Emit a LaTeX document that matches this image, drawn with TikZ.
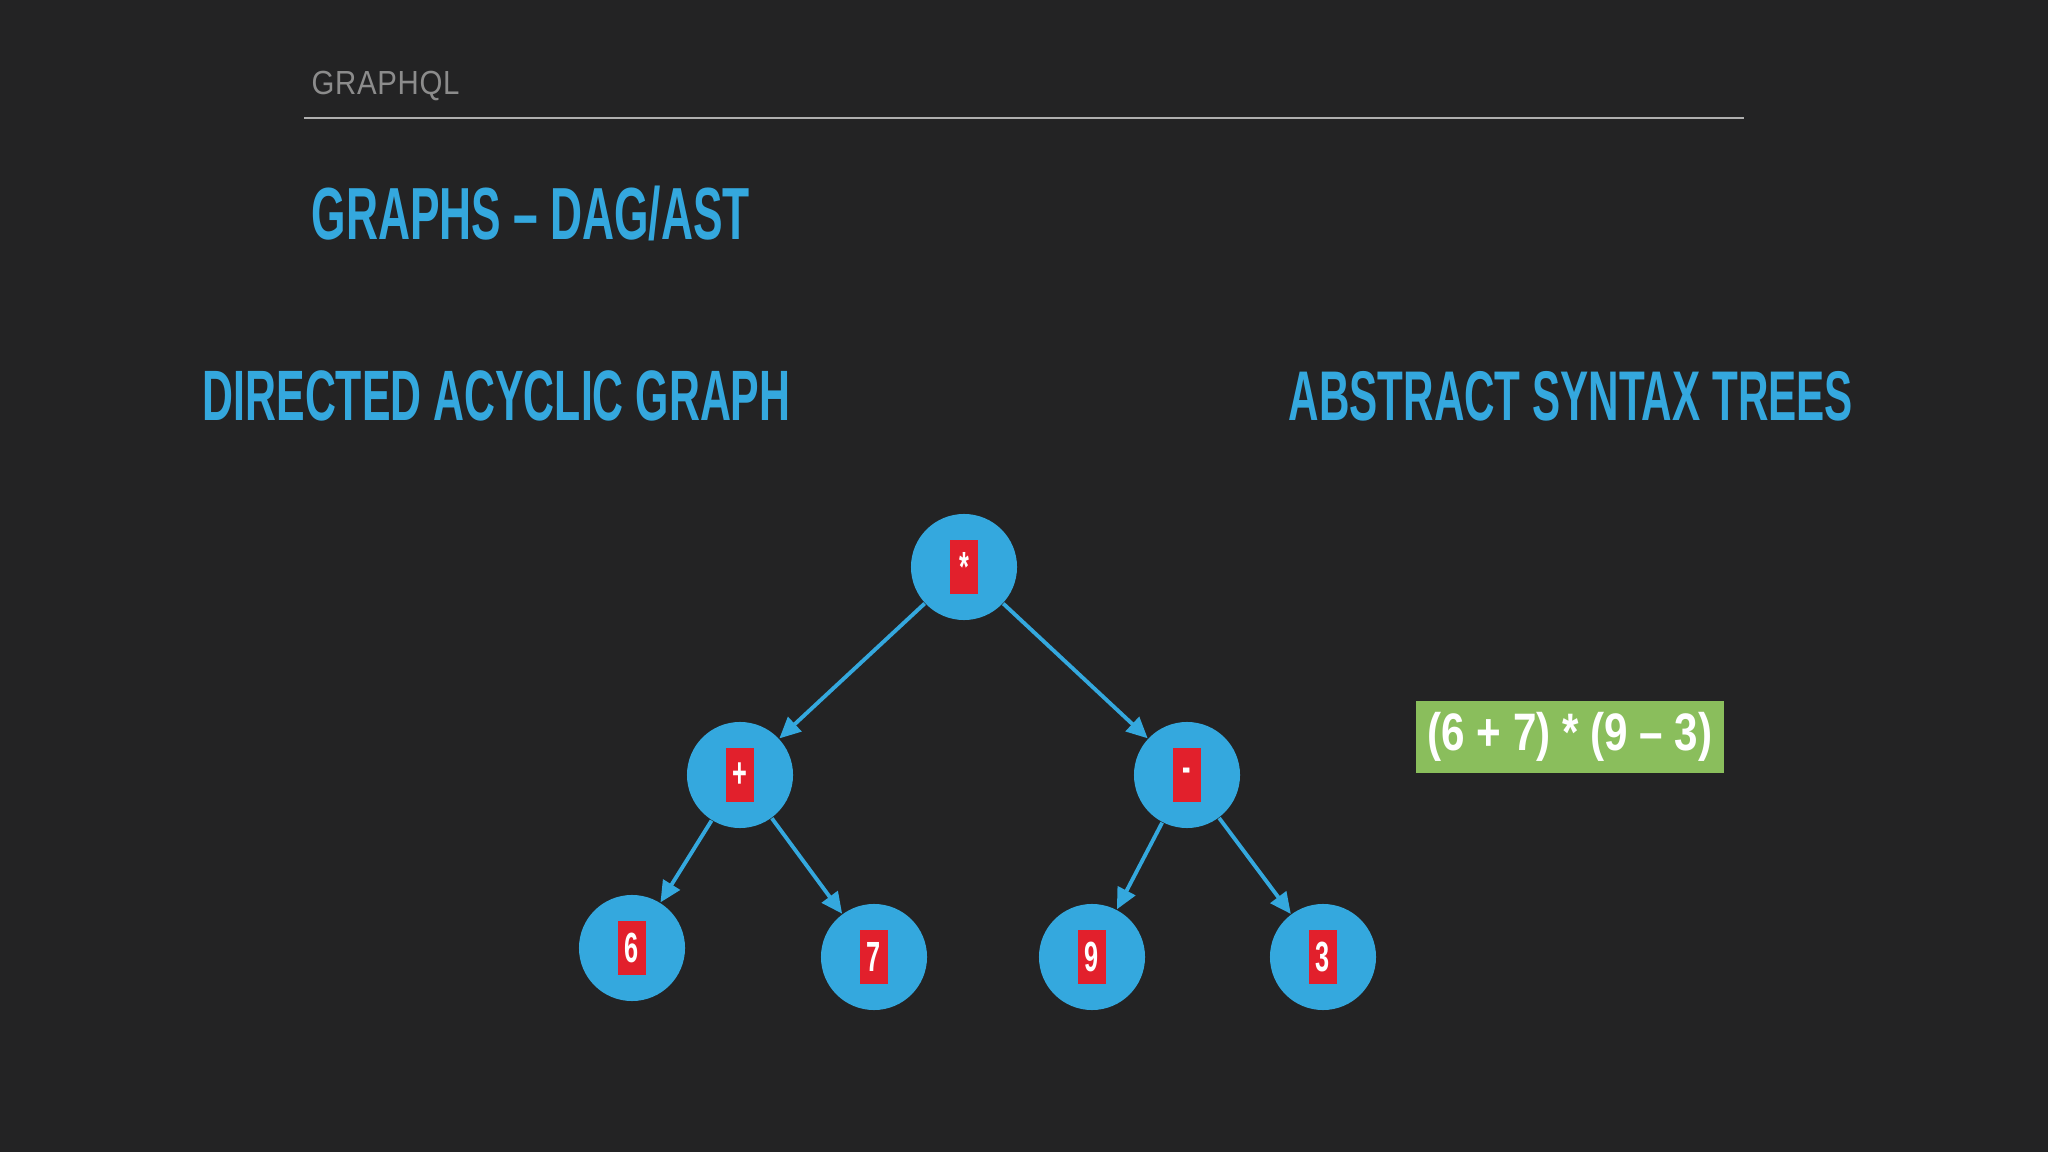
\documentclass[tikz,border=0pt]{standalone}
\usepackage{fontspec}
\setmainfont{Liberation Sans}
\newfontfamily\condfont[FakeStretch=0.6]{Liberation Sans}
\newfontfamily\exprfont[FakeStretch=0.8]{Liberation Sans}
\newfontfamily\deckfont[FakeStretch=0.88, LetterSpace=2]{Liberation Sans}
\usetikzlibrary{arrows.meta}
\definecolor{slidebg}{RGB}{35,35,36}
\definecolor{treeblue}{RGB}{52,168,222}
\definecolor{opred}{RGB}{226,32,44}
\definecolor{exprgreen}{RGB}{138,190,92}
\definecolor{deckgray}{RGB}{140,140,140}
\definecolor{rulegray}{RGB}{175,175,175}
\tikzset{
  vertex/.style = {circle, fill = treeblue, minimum size = 1.06cm, inner sep = 0pt},
  opbox/.style = {fill = opred, text = white, minimum width = 0.28cm, minimum height = 0.53cm, inner sep = 0pt, font = \condfont\bfseries\fontsize{12}{12}\selectfont},
  edge/.style = {draw = treeblue, line width = 1.1pt, -{Triangle[length = 6pt, width = 5.5pt]}},
  heading/.style = {text = treeblue, anchor = base west, inner sep = 0pt, font = \condfont\bfseries\fontsize{20.3}{20}\selectfont},
  exprbox/.style = {fill = exprgreen, text = white, minimum width = 3.08cm, minimum height = 0.72cm, inner sep = 0pt, font = \exprfont\bfseries\fontsize{15}{15}\selectfont}
}
\begin{document}
\begin{tikzpicture}[x = 0.01cm, y = -0.01cm]
\fill[slidebg] (0,0) rectangle (2048,1152);
\useasboundingbox (0,0) rectangle (2048,1152);
\node[anchor = base west, inner sep = 0pt, text = deckgray, font = \deckfont\fontsize{9.5}{10}\selectfont] (deck) at (311,95) {GRAPHQL};
\draw[rulegray, line width = 0.6pt] (304,118) -- (1744,118);
\node[heading, font = \condfont\bfseries\fontsize{21}{21}\selectfont] (title) at (311,240) {GRAPHS – DAG/AST};
\node[heading] (dag) at (202,421) {DIRECTED ACYCLIC GRAPH};
\node[heading, font = \condfont\bfseries\fontsize{20}{20}\selectfont] (ast) at (1288,421) {ABSTRACT SYNTAX TREES};
\foreach \name/\x/\y/\sym in {mul/964/567/*, add/740/775/+, sub/1187/775/-, six/632/948/6, seven/874/957/7, nine/1092/957/9, three/1323/957/3}
{
  \node[vertex] (\name) at (\x,\y) {};
  \node[opbox] (\name-op) at (\name) {\sym};
}
\foreach \a/\b in {mul/add, mul/sub, add/six, add/seven, sub/nine, sub/three} \draw[edge] (\a) -- (\b);
\node[exprbox] (expr) at (1570,737) {(6 + 7) * (9 – 3)};
\end{tikzpicture}
\end{document}
